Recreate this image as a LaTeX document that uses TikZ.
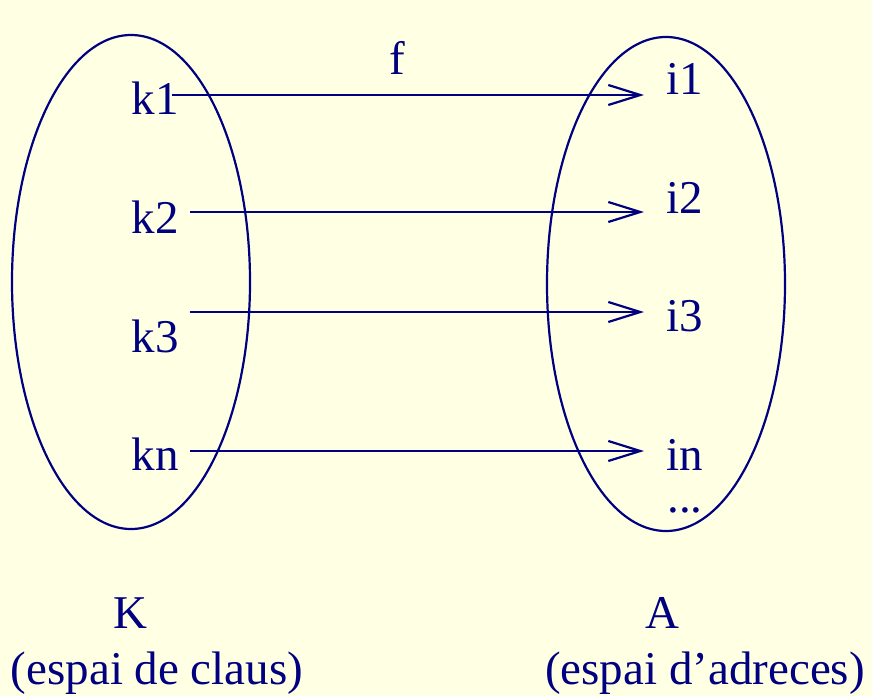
\documentclass[tikz,border=0pt]{standalone}
\usepackage{fontspec}
\setmainfont{Liberation Serif}
\usetikzlibrary{arrows.meta}
\definecolor{bg}{RGB}{255,255,228}
\definecolor{ink}{RGB}{0,0,128}
\begin{document}
\begin{tikzpicture}[x=1pt,y=-1pt,
  every node/.style={text=ink,font=\fontsize{47}{52}\selectfont,inner sep=0pt,anchor=base},
  set/.style={draw=ink,line width=2.2pt},
  maparrow/.style={draw=ink,line width=2.2pt,-{Straight Barb[length=32pt,width=20pt,line width=2.2pt]}}]
\fill[bg] (0,0) rectangle (872,696);
\useasboundingbox (0,0) rectangle (872,696);
\draw[set] (131,282) ellipse [x radius=119,y radius=247];
\draw[set] (666,284) ellipse [x radius=119,y radius=247];
\node (k1) at (155,114) {k1};
\node (k2) at (155,233) {k2};
\node (k3) at (155,352) {k3};
\node (kn) at (155,470) {kn};
\node (i1) at (685,94) {i1};
\node (i2) at (685,213) {i2};
\node (i3) at (685,331) {i3};
\node (in) at (685,470) {in};
\node (dots) at (685,512) {...};
\node (f) at (397,74) {f};
\node (K) at (130,628) {K};
\node (A) at (662,628) {A};
\node (Kd) at (157,684) {(espai de claus)};
\node (Ad) at (705,684) {(espai d’adreces)};
\coordinate (s1) at (172,95);
\coordinate (t1) at (644,95);
\coordinate (s2) at (190,212);
\coordinate (t2) at (644,212);
\coordinate (s3) at (190,312);
\coordinate (t3) at (644,312);
\coordinate (s4) at (190,451);
\coordinate (t4) at (644,451);
\draw[maparrow] (s1) -- (t1);
\draw[maparrow] (s2) -- (t2);
\draw[maparrow] (s3) -- (t3);
\draw[maparrow] (s4) -- (t4);
\end{tikzpicture}
\end{document}
